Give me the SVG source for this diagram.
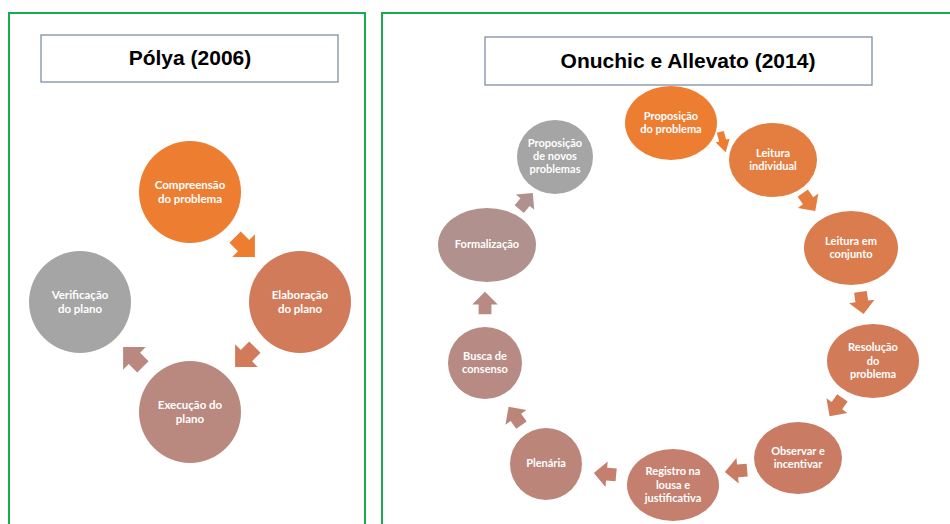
<svg xmlns="http://www.w3.org/2000/svg" xmlns:xlink="http://www.w3.org/1999/xlink" width="950" height="524" viewBox="0 0 950 524">
<style>
.panel{fill:none;stroke:#1AAB50;stroke-width:2}
.tbox{fill:#fff;stroke:#7F8FA6;stroke-width:1.3}
.title{font-family:"Liberation Sans",Arial,sans-serif;font-weight:bold;font-size:21px;fill:#000;text-anchor:middle}
.lbl{font-family:Lato,"Open Sans",sans-serif;font-weight:bold;font-size:11.5px;fill:#fff;text-anchor:middle}
.lbr{font-family:Lato,"Open Sans",sans-serif;font-weight:bold;font-size:11px;fill:#fff;text-anchor:middle}
</style>
<defs>
<path id="arr" d="M-14,-8 L-2,-8 L-2,-16 L14,0 L-2,16 L-2,8 L-14,8 Z"/>
</defs>
<rect width="950" height="524" fill="#fff"/>
<g id="panel-left">
<rect class="panel" x="9" y="13" width="356" height="530"/>
<rect class="tbox" x="41" y="35" width="297" height="47"/>
<text class="title" x="190" y="65">Pólya (2006)</text>
</g>
<g id="panel-right">
<rect class="panel" x="382" y="13" width="600" height="530"/>
<rect class="tbox" x="485" y="37" width="387" height="48"/>
<text class="title" x="688" y="68">Onuchic e Allevato (2014)</text>
</g>
<g id="connectors">
<use xlink:href="#arr" fill="#ED7D31" transform="translate(245,247) rotate(45)"/>
<use xlink:href="#arr" fill="#D27B5B" transform="translate(245,357) rotate(135)"/>
<use xlink:href="#arr" fill="#B9897F" transform="translate(133,357) rotate(225)"/>
<use xlink:href="#arr" fill="#ED7D31" transform="translate(723,142) rotate(75) scale(0.75,0.45)"/>
<use xlink:href="#arr" fill="#E47D40" transform="translate(809,202) rotate(55) scale(0.78)"/>
<use xlink:href="#arr" fill="#DA7C4D" transform="translate(862,303) rotate(82) scale(0.8)"/>
<use xlink:href="#arr" fill="#D27B58" transform="translate(836,407) rotate(125) scale(0.8)"/>
<use xlink:href="#arr" fill="#CA7B63" transform="translate(736,471) rotate(175) scale(0.8)"/>
<use xlink:href="#arr" fill="#C47F6E" transform="translate(605,474) rotate(185) scale(0.8)"/>
<use xlink:href="#arr" fill="#BC8579" transform="translate(515,416) rotate(235) scale(0.8)"/>
<use xlink:href="#arr" fill="#B78A84" transform="translate(485,303) rotate(270) scale(0.8)"/>
<use xlink:href="#arr" fill="#B0918D" transform="translate(526,201) rotate(310) scale(0.75)"/>
</g>
<g id="n-compreensao"><circle cx="190" cy="192" r="51" fill="#ED7D31"/><text class="lbl" x="190" y="189">Compreensão</text><text class="lbl" x="190" y="203">do problema</text></g>
<g id="n-elaboracao"><circle cx="300" cy="302" r="51" fill="#D27B5B"/><text class="lbl" x="300" y="299">Elaboração</text><text class="lbl" x="300" y="313">do plano</text></g>
<g id="n-execucao"><circle cx="190" cy="412" r="51" fill="#B9897F"/><text class="lbl" x="190" y="409">Execução do</text><text class="lbl" x="190" y="423">plano</text></g>
<g id="n-verificacao"><circle cx="80" cy="302" r="51" fill="#A5A5A5"/><text class="lbl" x="80" y="299">Verificação</text><text class="lbl" x="80" y="313">do plano</text></g>
<g id="r-proposicao"><ellipse cx="671" cy="123" rx="46" ry="37" fill="#ED7D31"/><text class="lbr" x="671" y="120">Proposição</text><text class="lbr" x="671" y="133">do problema</text></g>
<g id="r-leitura-ind"><ellipse cx="773" cy="160" rx="44" ry="37" fill="#E47D40"/><text class="lbr" x="773" y="157">Leitura</text><text class="lbr" x="773" y="170">individual</text></g>
<g id="r-leitura-conj"><ellipse cx="851" cy="248" rx="47" ry="37" fill="#DA7C4D"/><text class="lbr" x="851" y="245">Leitura em</text><text class="lbr" x="851" y="258">conjunto</text></g>
<g id="r-resolucao"><ellipse cx="873" cy="361" rx="46" ry="37" fill="#D27B58"/><text class="lbr" x="873" y="351">Resolução</text><text class="lbr" x="873" y="365">do</text><text class="lbr" x="873" y="378">problema</text></g>
<g id="r-observar"><ellipse cx="798" cy="458" rx="44" ry="36" fill="#CA7B63"/><text class="lbr" x="798" y="455">Observar e</text><text class="lbr" x="798" y="468">incentivar</text></g>
<g id="r-registro"><ellipse cx="673" cy="485" rx="46" ry="36" fill="#C47F6E"/><text class="lbr" x="673" y="475">Registro na</text><text class="lbr" x="673" y="489">lousa e</text><text class="lbr" x="673" y="502">justificativa</text></g>
<g id="r-plenaria"><ellipse cx="546" cy="464" rx="36" ry="36" fill="#BC8579"/><text class="lbr" x="546" y="467">Plenária</text></g>
<g id="r-busca"><ellipse cx="485" cy="363" rx="37" ry="36" fill="#B78A84"/><text class="lbr" x="485" y="360">Busca de</text><text class="lbr" x="485" y="373">consenso</text></g>
<g id="r-formalizacao"><ellipse cx="487" cy="245" rx="49" ry="37" fill="#B0918D"/><text class="lbr" x="487" y="248">Formalização</text></g>
<g id="r-novos"><ellipse cx="555" cy="157" rx="38" ry="37" fill="#A5A5A5"/><text class="lbr" x="555" y="147">Proposição</text><text class="lbr" x="555" y="160">de novos</text><text class="lbr" x="555" y="173">problemas</text></g>
</svg>
